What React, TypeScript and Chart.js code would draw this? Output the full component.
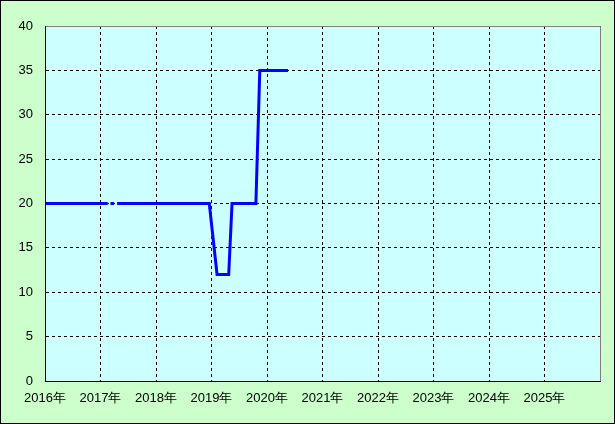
import React, { useEffect, useRef } from "react";
import { Chart, registerables } from "chart.js";

Chart.register(...registerables);

const lineX = [2016.0, 2017.13, 2017.155, 2017.18, 2017.245, 2017.27, 2017.3, 2018.96, 2019.1, 2019.31, 2019.37, 2019.8, 2019.87, 2020.38];
const lineY: (number | null)[] = [20, 20, null, 20, 20, null, 20, 20, 12, 12, 20, 20, 35, 35];
const yTicks = [0, 5, 10, 15, 20, 25, 30, 35, 40];
const xYears = [2016, 2017, 2018, 2019, 2020, 2021, 2022, 2023, 2024, 2025];

const bgPlugin = {
  id: "bgPlugin",
  beforeDraw(chart: any) {
    const { ctx, chartArea: a, width, height } = chart;
    ctx.save();
    ctx.fillStyle = "#CCFFCC";
    ctx.fillRect(0, 0, width, height);
    ctx.fillStyle = "#CCFFFF";
    ctx.fillRect(a.left, a.top, a.right - a.left, a.bottom - a.top);
    ctx.restore();
  },
  afterDraw(chart: any) {
    const { ctx, chartArea: a, width, height } = chart;
    ctx.save();
    ctx.lineWidth = 1;
    ctx.strokeStyle = "#808080";
    ctx.beginPath();
    ctx.moveTo(a.left, a.top + 0.5);
    ctx.lineTo(a.right + 0.5, a.top + 0.5);
    ctx.lineTo(a.right + 0.5, a.bottom);
    ctx.stroke();
    ctx.strokeStyle = "#000000";
    ctx.beginPath();
    ctx.moveTo(a.left + 0.5, a.top);
    ctx.lineTo(a.left + 0.5, a.bottom + 0.5);
    ctx.lineTo(a.right + 1, a.bottom + 0.5);
    ctx.stroke();
    ctx.strokeRect(0.5, 0.5, width - 1, height - 1);
    ctx.restore();
  },
};

export default function App() {
  const ref = useRef<HTMLCanvasElement | null>(null);
  useEffect(() => {
    document.body.style.margin = "0";
    const data = lineX.map((x, i) => ({ x, y: lineY[i] }));
    const chart = new Chart(ref.current!, {
      type: "line",
      data: {
        datasets: [
          {
            data: data as any,
            borderColor: "#0000FF",
            borderWidth: 3,
            pointRadius: 0,
            tension: 0,
            spanGaps: false,
          },
        ],
      },
      options: {
        animation: false,
        responsive: false,
        devicePixelRatio: 1,
        layout: { padding: { top: 26, right: 15, left: 0, bottom: 0 } },
        plugins: { legend: { display: false }, tooltip: { enabled: false } },
        scales: {
          x: {
            type: "linear",
            min: 2016,
            max: 2026,
            afterBuildTicks: (s: any) => {
              s.ticks = [...xYears, 2026].map((v) => ({ value: v }));
            },
            afterFit: (s: any) => {
              s.height = 43;
            },
            ticks: {
              autoSkip: false,
              maxRotation: 0,
              padding: 10,
              color: "#000000",
              font: { family: "Liberation Sans", size: 13 },
              callback: (v: any) => (v === 2026 ? "" : `${v}年`),
            },
            grid: {
              color: "#000000",
              lineWidth: 1,
              drawTicks: false,
            },
            border: { display: true, color: "#000000", width: 1, dash: [3, 3] },
          },
          y: {
            min: 0,
            max: 40,
            afterBuildTicks: (s: any) => {
              s.ticks = yTicks.map((v) => ({ value: v }));
            },
            afterFit: (s: any) => {
              s.width = 45;
            },
            ticks: {
              padding: 12,
              color: "#000000",
              font: { family: "Liberation Sans", size: 13 },
            },
            grid: {
              color: "#000000",
              lineWidth: 1,
              drawTicks: false,
            },
            border: { display: true, color: "#000000", width: 1, dash: [3, 3] },
          },
        },
      } as any,
      plugins: [bgPlugin],
    });
    return () => chart.destroy();
  }, []);
  return (
    <div style={{ position: "absolute", left: 0, top: 0, width: 615, height: 424 }}>
      <canvas ref={ref} width={615} height={424} />
    </div>
  );
}
